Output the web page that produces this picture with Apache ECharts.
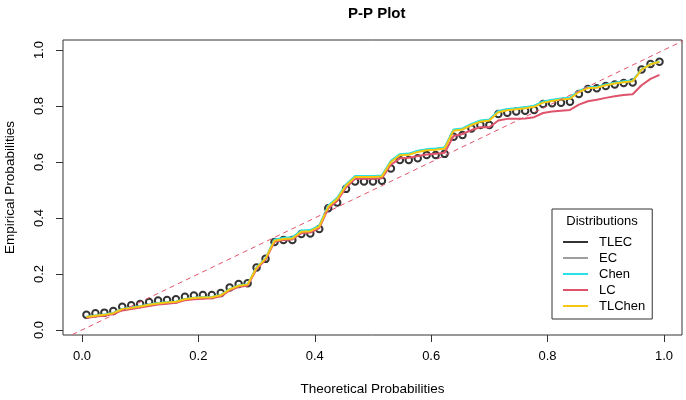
<!DOCTYPE html>
<html>
<head>
<meta charset="utf-8">
<script src="https://cdn.jsdelivr.net/npm/echarts@6/dist/echarts.min.js"></script>
<style>html,body{margin:0;padding:0;background:#fff;}#c{width:686px;height:400px;}</style>
</head>
<body>
<div id="c"></div>
<script>
const theoretical = [0.0077,0.0231,0.0385,0.0538,0.0692,0.0846,0.1000,0.1154,0.1308,0.1462,0.1615,0.1769,0.1923,0.2077,0.2231,0.2385,0.2538,0.2692,0.2846,0.3000,0.3154,0.3308,0.3462,0.3615,0.3769,0.3923,0.4077,0.4231,0.4385,0.4538,0.4692,0.4846,0.5000,0.5154,0.5308,0.5462,0.5615,0.5769,0.5923,0.6077,0.6231,0.6385,0.6538,0.6692,0.6846,0.7000,0.7154,0.7308,0.7462,0.7615,0.7769,0.7923,0.8077,0.8231,0.8385,0.8538,0.8692,0.8846,0.9000,0.9154,0.9308,0.9462,0.9615,0.9769,0.9923];
const tlecPoints = [0.054,0.060,0.062,0.068,0.083,0.088,0.093,0.100,0.105,0.107,0.110,0.119,0.123,0.125,0.125,0.132,0.152,0.164,0.167,0.223,0.254,0.314,0.321,0.321,0.343,0.345,0.361,0.435,0.455,0.504,0.530,0.530,0.530,0.533,0.577,0.607,0.607,0.613,0.625,0.625,0.629,0.690,0.696,0.720,0.732,0.732,0.771,0.776,0.780,0.783,0.786,0.807,0.810,0.812,0.815,0.843,0.861,0.863,0.871,0.877,0.882,0.884,0.930,0.950,0.958];
const tlchen = [0.046,0.051,0.054,0.060,0.074,0.079,0.084,0.090,0.095,0.098,0.101,0.110,0.114,0.116,0.117,0.124,0.145,0.158,0.162,0.222,0.255,0.319,0.325,0.327,0.351,0.353,0.369,0.440,0.468,0.516,0.546,0.546,0.546,0.548,0.600,0.624,0.626,0.636,0.642,0.644,0.648,0.712,0.716,0.732,0.744,0.748,0.778,0.785,0.788,0.792,0.797,0.812,0.818,0.823,0.826,0.850,0.864,0.865,0.874,0.880,0.885,0.888,0.930,0.949,0.958];
const chen = [0.047,0.052,0.055,0.061,0.075,0.080,0.085,0.091,0.096,0.099,0.102,0.111,0.115,0.117,0.118,0.125,0.146,0.159,0.163,0.223,0.256,0.323,0.329,0.331,0.355,0.357,0.373,0.444,0.472,0.520,0.550,0.550,0.550,0.552,0.604,0.628,0.630,0.640,0.646,0.648,0.652,0.716,0.720,0.736,0.748,0.752,0.782,0.789,0.792,0.796,0.801,0.816,0.822,0.827,0.830,0.854,0.867,0.868,0.877,0.883,0.888,0.891,0.931,0.950,0.959];
const ec = [0.046,0.051,0.054,0.060,0.074,0.079,0.084,0.090,0.095,0.098,0.101,0.110,0.114,0.116,0.117,0.124,0.145,0.158,0.162,0.222,0.255,0.321,0.327,0.329,0.353,0.355,0.371,0.442,0.470,0.518,0.548,0.548,0.548,0.550,0.602,0.626,0.628,0.638,0.644,0.646,0.650,0.714,0.718,0.734,0.746,0.750,0.780,0.787,0.790,0.794,0.799,0.814,0.820,0.825,0.828,0.852,0.866,0.867,0.876,0.882,0.887,0.890,0.930,0.949,0.958];
const lc = [0.043,0.048,0.051,0.057,0.070,0.075,0.080,0.086,0.091,0.094,0.097,0.106,0.110,0.112,0.113,0.120,0.141,0.154,0.158,0.218,0.251,0.315,0.321,0.323,0.346,0.348,0.364,0.434,0.461,0.509,0.540,0.540,0.540,0.542,0.590,0.613,0.615,0.621,0.627,0.629,0.633,0.693,0.700,0.714,0.724,0.724,0.748,0.754,0.754,0.755,0.760,0.775,0.780,0.783,0.786,0.805,0.817,0.822,0.829,0.835,0.839,0.842,0.874,0.897,0.911];
const tickValues = [0, 0.2, 0.4, 0.6, 0.8, 1.0];
const refLine = [[-0.1, -0.1], [1.1, 1.1]];
const names = ['TLEC', 'EC', 'Chen', 'LC', 'TLChen'];
const colors = ['#000000', '#9E9E9E', '#28E2E5', '#DF536B', '#F5C710'];

const pairs = ys => theoretical.map((x, i) => [x, ys[i]]);
const FONT = 'Liberation Sans';

const lineSeries = (name, ys, color) => ({
  name, type: 'line', data: pairs(ys), showSymbol: false, symbol: 'none', z: 3,
  lineStyle: { color, width: 2 }, itemStyle: { color }, silent: true
});

const chart = echarts.init(document.getElementById('c'), null, { renderer: 'canvas' });
chart.setOption({
  animation: false,
  backgroundColor: '#fff',
  title: {
    text: 'P-P Plot', left: 343, top: 1,
    textStyle: { fontFamily: FONT, fontSize: 15, fontWeight: 'bold', color: '#000' }
  },
  graphic: [{
    type: 'text', x: 602, y: 215, z: 100, zlevel: 0,
    style: { text: 'Distributions', font: '13px "Liberation Sans"', fill: '#000', align: 'center', textAlign: 'center' }
  }],
  legend: {
    orient: 'vertical', left: 552, top: 209, z: 10,
    padding: [26, 7, 6, 11],
    itemGap: 2, itemWidth: 25, itemHeight: 2, icon: 'rect',
    borderColor: '#333', borderWidth: 1,
    selectedMode: false,
    textStyle: { fontFamily: FONT, fontSize: 13, color: '#000', lineHeight: 14, padding: [0, 0, 0, 6] },
    data: names.map((n, i) => ({ name: n, icon: 'rect', itemStyle: { color: colors[i], borderWidth: 0 } }))
  },
  grid: { left: 63, right: 4, top: 40, bottom: 65, show: true, borderColor: '#333', borderWidth: 1, backgroundColor: 'transparent', containLabel: false, outerBoundsMode: 'none' },
  xAxis: {
    type: 'value', min: -0.0326, max: 1.031,
    name: 'Theoretical Probabilities', nameLocation: 'middle', nameGap: 47,
    nameTextStyle: { fontFamily: FONT, fontSize: 13.5, color: '#000' },
    axisLine: { show: false, onZero: false },
    axisTick: { show: true, inside: false, length: 7, lineStyle: { color: '#333' }, customValues: tickValues },
    axisLabel: { fontFamily: FONT, fontSize: 13, color: '#000', margin: 15, customValues: tickValues, formatter: v => v.toFixed(1) },
    splitLine: { show: false }
  },
  yAxis: {
    type: 'value', min: -0.0179, max: 1.0357,
    name: 'Empirical Probabilities', nameLocation: 'middle', nameGap: 46, nameRotate: 90,
    nameTextStyle: { fontFamily: FONT, fontSize: 13.5, color: '#000' },
    axisLine: { show: false, onZero: false },
    axisTick: { show: true, inside: false, length: 7, lineStyle: { color: '#333' }, customValues: tickValues },
    axisLabel: { fontFamily: FONT, fontSize: 13, color: '#000', margin: 17, rotate: 90, customValues: tickValues, formatter: v => v.toFixed(1) },
    splitLine: { show: false }
  },
  series: [
    {
      name: 'TLEC', type: 'scatter', data: pairs(tlecPoints), symbol: 'circle', symbolSize: 6.5, z: 2, silent: true,
      itemStyle: { color: 'rgba(0,0,0,0)', borderColor: '#000', borderWidth: 2 }
    },
    lineSeries('EC', ec, colors[1]),
    lineSeries('Chen', chen, colors[2]),
    lineSeries('LC', lc, colors[3]),
    lineSeries('TLChen', tlchen, colors[4]),
    {
      name: 'ref', type: 'line', data: refLine, showSymbol: false, symbol: 'none', clip: true, z: 4, silent: true,
      lineStyle: { color: '#DF536B', width: 1, type: [5, 4] }
    }
  ]
});
</script>
</body>
</html>
